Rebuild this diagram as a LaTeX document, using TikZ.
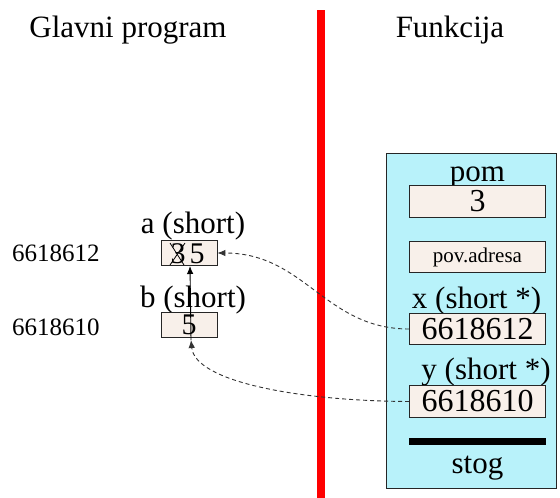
\documentclass[tikz,border=0pt]{standalone}
\usepackage{fontspec}
\setmainfont{Liberation Serif}
\usetikzlibrary{arrows.meta}
\definecolor{boxfill}{RGB}{248,240,234}
\definecolor{stackcyan}{RGB}{184,242,250}
\newcommand{\fs}[1]{\fontsize{#1}{#1}\selectfont}
\tikzset{
  lbox/.style={draw=black!85, fill=boxfill, line width=0.8pt, inner sep=0pt,
               minimum width=56pt, minimum height=24.5pt},
  rbox/.style={draw=black!85, fill=boxfill, line width=0.8pt, inner sep=0pt,
               minimum width=136pt, minimum height=31.5pt, font=\fs{32}},
  lbl/.style={anchor=base, inner sep=0pt, font=\fs{31}},
  addr/.style={anchor=base, inner sep=0pt, font=\fs{25}},
  ptr/.style={-{Latex[length=8pt,width=6.5pt]}, line width=0.9pt, black},
  dptr/.style={-{Latex[length=8pt,width=6.5pt]}, line width=0.9pt, black!80,
               dash pattern=on 4pt off 3pt},
}
\begin{document}
\begin{tikzpicture}[x=1pt,y=-1pt]
\useasboundingbox (0,0) rectangle (560,498);
% headings
\node[lbl] (glavni) at (128,37) {Glavni program};
\node[lbl] (funk) at (450,37) {Funkcija};
% divider
\coordinate (redtop) at (321,10);
\coordinate (redbot) at (321,498);
\draw[red, line width=8pt] (redtop) -- (redbot);
% stack area
\node[draw=black!85, fill=stackcyan, line width=0.8pt, inner sep=0pt,
      minimum width=170pt, minimum height=335pt] (stack) at (471,320.5) {};
\node[lbl] (pomlbl) at (477.5,181) {pom};
\node[rbox] (pom) at (477.5,201.5) {3};
\node[rbox, font=\fs{21}] (pov) at (477.5,257) {pov.adresa};
\node[lbl] (xlbl) at (476.5,308) {x (short *)};
\node[rbox] (xbox) at (477.5,329) {6618612};
\node[lbl] (ylbl) at (486,379) {y (short *)};
\node[rbox] (ybox) at (477.5,401.5) {6618610};
\coordinate (barl) at (409,441);
\coordinate (barr) at (546,441);
\draw[black, line width=7pt] (barl) -- (barr);
\node[lbl] (stog) at (477.5,473) {stog};
% main program variables
\node[addr] (aaddr) at (56,261.5) {6618612};
\node[addr] (baddr) at (56,335) {6618610};
\node[lbl] (albl) at (193,233) {a (short)};
\node[lbl] (blbl) at (193,307) {b (short)};
\node[lbox] (abox) at (189,253) {};
\node[lbox, font=\fs{30}] (bbox) at (189,325) {5};
\node[inner sep=0pt, font=\fs{30}] (three) at (178,254) {3};
\node[inner sep=0pt, font=\fs{30}] (five) at (197,254) {5};
\coordinate (xa1) at (170,243);
\coordinate (xa2) at (184,265);
\coordinate (xb1) at (185,243);
\coordinate (xb2) at (170,265);
\draw[line width=0.8pt] (xa1) -- (xa2);
\draw[line width=0.8pt] (xb1) -- (xb2);
% pointers
\coordinate (bptr) at (191,340);
\coordinate (atip) at (190,266);
\draw[ptr] (bptr) -- (atip);
\draw[dptr] (xbox.west) .. controls (325,329) and (305,253) .. (abox.east);
\draw[dptr] (ybox.west) .. controls (300,401) and (195,382) .. (bptr);
\end{tikzpicture}
\end{document}
